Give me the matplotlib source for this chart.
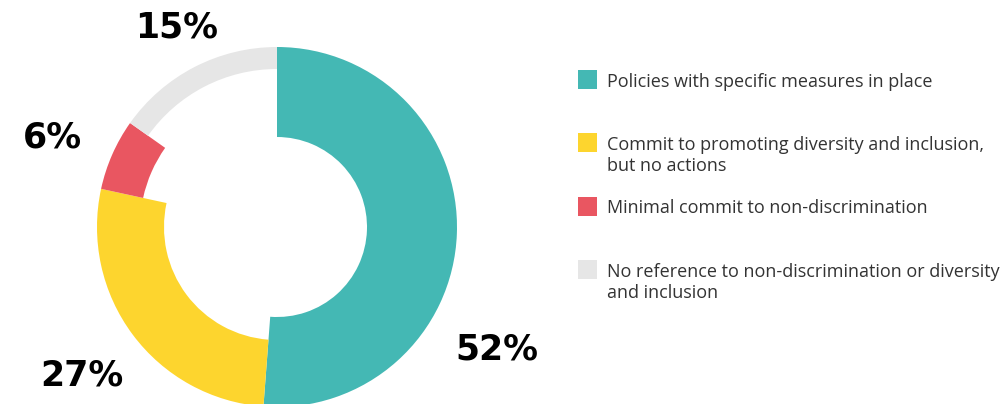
import matplotlib
matplotlib.use('Agg')
import matplotlib.pyplot as plt
from matplotlib.patches import Wedge, Rectangle

# data
categories = ['Policies with specific measures in place',
              'Commit to promoting diversity and inclusion,\nbut no actions',
              'Minimal commit to non-discrimination',
              'No reference to non-discrimination or diversity\nand inclusion']
shares = [51.2, 27.2, 6.4, 15.2]   # arc sizes as drawn
labels = ['52%', '27%', '6%', '15%']

colors = ['#44B8B4', '#FDD52E', '#E95661', '#E6E6E6']
inner_r = [90, 113, 137, 158]   # each ring gets thinner
outer_r = 180
H = 404
center = (277, H - 227)

label_pos = [(497, 349), (82, 376), (52, 138), (177, 27)]
legend_sq = [79.5, 142.5, 206, 269]
legend_base = [87, 150, 213, 277]
line_gap = 21

fig = plt.figure(figsize=(10.01, 4.04), dpi=100)
ax = fig.add_axes([0, 0, 1, 1])
ax.set_xlim(0, 1001)
ax.set_ylim(0, H)
ax.axis('off')

total = sum(shares)
start = 0.0
for v, c, ri in zip(shares, colors, inner_r):
    t2 = 90 - start / total * 360
    t1 = 90 - (start + v) / total * 360
    ax.add_patch(Wedge(center, outer_r, t1, t2, width=outer_r - ri,
                       facecolor=c, edgecolor='none'))
    start += v

for lab, (x, y) in zip(labels, label_pos):
    ax.text(x, H - y, lab, ha='center', va='center', fontsize=25,
            fontweight='heavy', family='DejaVu Sans', color='black')

# legend
for cat, c, ys, yb in zip(categories, colors, legend_sq, legend_base):
    ax.add_patch(Rectangle((578, H - ys - 9.5), 19, 19, facecolor=c, edgecolor='none'))
    for i, line in enumerate(cat.split('\n')):
        ax.text(607, H - yb - i * line_gap, line, ha='left', va='baseline',
                fontsize=13, family='Open Sans', color='#333333')

fig.savefig('out.png', dpi=100)
